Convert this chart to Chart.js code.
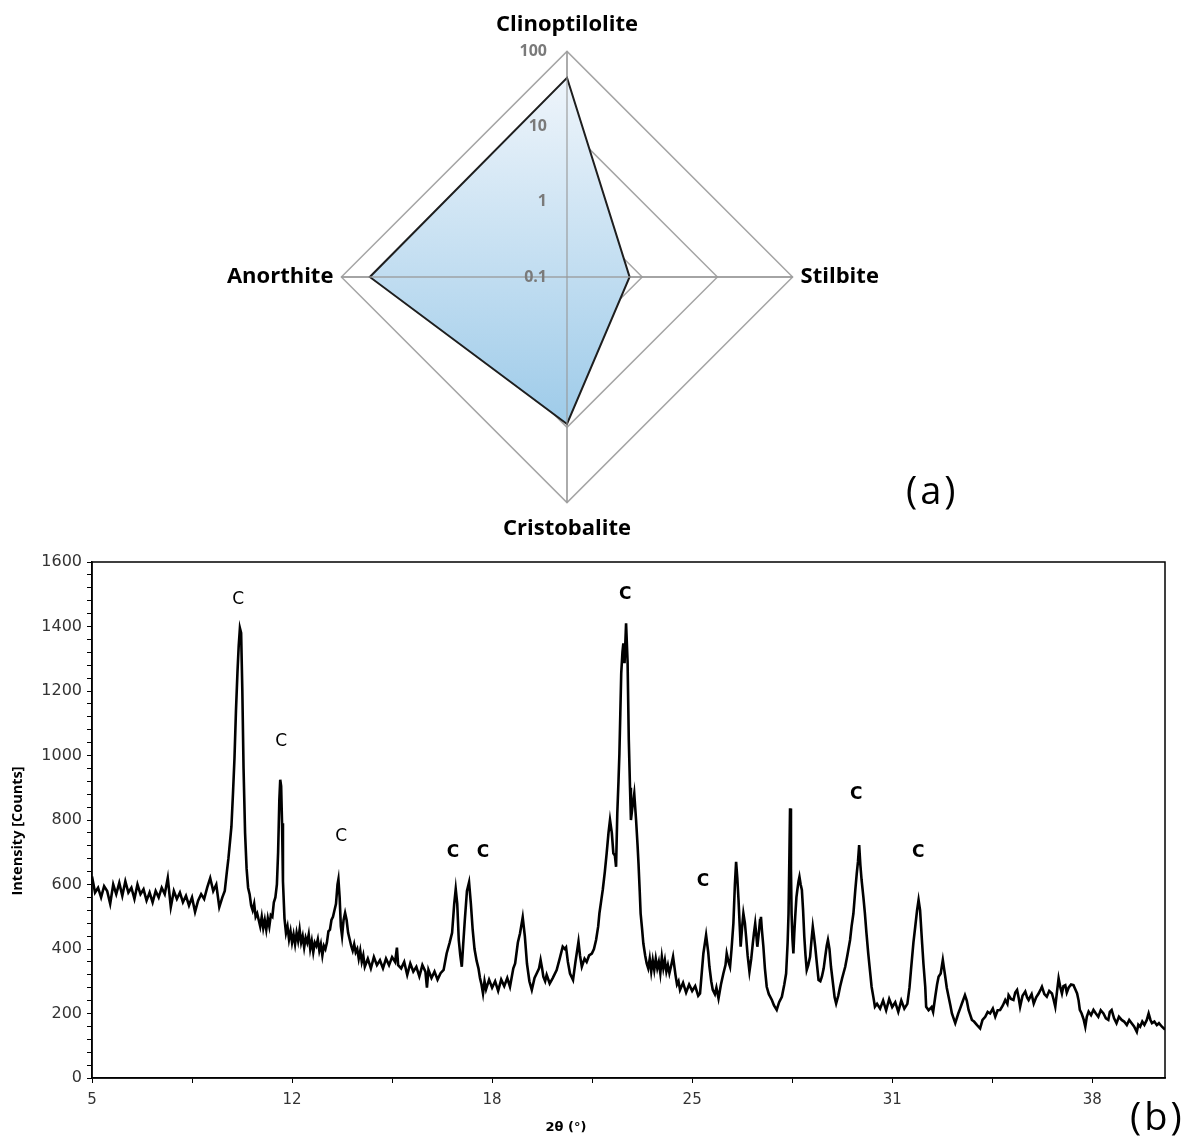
<!DOCTYPE html>
<html>
<head>
<meta charset="utf-8">
<script src="https://cdn.jsdelivr.net/npm/chart.js@4.4.1/dist/chart.umd.min.js"></script>
<style>
  body { margin: 0; background: #fff; }
  #page { position: relative; width: 1185px; height: 1142px; overflow: hidden; background: #fff; }
  #radarBox { position: absolute; left: 167px; top: 12px; width: 800px; height: 530px; }
  #xrdBox { position: absolute; left: 0; top: 545px; width: 1185px; height: 597px; }
  .panel-tag { position: absolute; font-family: 'Open Sans', sans-serif; font-size: 38px; line-height: 1; letter-spacing: 3px; color: #000; }
</style>
</head>
<body>
<div id="page">
  <div id="radarBox"><canvas id="radarChart"></canvas></div>
  <div id="xrdBox"><canvas id="xrdChart"></canvas></div>
  <div class="panel-tag" style="left:906px; top:470px;">(a)</div>
  <div class="panel-tag" style="left:1130px; top:1096px;">(b)</div>
</div>
<script>
// (a) mineral phases, shown on a log radial scale
const minerals = ['Clinoptilolite', 'Stilbite', 'Cristobalite', 'Anorthite'];
const mineralShares = [44.6, 0.68, 9.0, 41.9];
const radarTickValues = [-1, 0, 1, 2];          // log10 of the ring values
const radarTickLabels = ['0.1', '1', '10', '100'];

// (b) XRD scan
const twoTheta = [
  5.0, 5.1, 5.2, 5.3, 5.4, 5.5, 5.6, 5.7, 5.8, 5.9,
  6.0, 6.1, 6.2, 6.3, 6.4, 6.5, 6.6, 6.7, 6.8, 6.9,
  7.0, 7.1, 7.2, 7.3, 7.4, 7.5, 7.6, 7.7, 7.8, 7.9,
  8.0, 8.1, 8.2, 8.3, 8.4, 8.5, 8.6, 8.7, 8.8, 8.9,
  9.0, 9.1, 9.2, 9.3,
  9.38, 9.45, 9.5, 9.55, 9.6, 9.65, 9.7, 9.75, 9.8, 9.84,
  9.88, 9.92, 9.96, 10.0, 10.05, 10.1, 10.15, 10.2, 10.25, 10.3,
  10.35, 10.4, 10.45, 10.5,
  10.55, 10.6, 10.65, 10.7, 10.75, 10.8, 10.85, 10.9, 10.95, 11.0,
  11.05, 11.1, 11.14, 11.18, 11.21, 11.24, 11.27, 11.3, 11.35, 11.4,
  11.45, 11.5, 11.55, 11.6,
  11.65, 11.7, 11.75, 11.8, 11.85, 11.9, 11.95, 12.0, 12.05, 12.1,
  12.15, 12.2, 12.25, 12.3, 12.35, 12.4, 12.45, 12.5, 12.55, 12.6,
  12.65, 12.7, 12.75, 12.8, 12.85, 12.9, 12.95, 13.0,
  13.05, 13.1, 13.13, 13.17, 13.21, 13.25, 13.3, 13.35, 13.4, 13.45,
  13.5, 13.55, 13.6, 13.65, 13.7, 13.75, 13.8, 13.85, 13.9, 13.95,
  14.0, 14.1, 14.2, 14.3, 14.4, 14.5, 14.6, 14.7, 14.8, 14.9,
  15.0, 15.06, 15.1, 15.2, 15.3, 15.4, 15.5, 15.6, 15.7, 15.8,
  15.9, 16.0, 16.05, 16.1, 16.2, 16.3, 16.4, 16.5, 16.6,
  16.7, 16.8, 16.88, 16.95, 17.0, 17.05, 17.1, 17.15, 17.2, 17.25,
  17.3, 17.37, 17.44, 17.5, 17.56, 17.62, 17.69, 17.75, 17.8, 17.85,
  17.9, 17.95, 18.0, 18.1, 18.2, 18.3, 18.4, 18.5, 18.6, 18.7,
  18.79, 18.9, 18.96,
  19.05, 19.12, 19.21, 19.28, 19.35, 19.43, 19.51, 19.6, 19.67, 19.75,
  19.8, 19.85, 19.89, 19.95, 20.0, 20.1, 20.2, 20.33, 20.43, 20.53,
  20.6, 20.64, 20.7, 20.77, 20.87, 20.95, 21.05, 21.1, 21.16, 21.25,
  21.32, 21.4, 21.49, 21.56,
  21.63, 21.7, 21.74, 21.8, 21.85, 21.92, 21.98, 22.04, 22.09, 22.15,
  22.2, 22.25, 22.29, 22.33, 22.37, 22.4, 22.43, 22.46, 22.5, 22.53,
  22.57, 22.62, 22.67, 22.71, 22.75, 22.78, 22.83, 22.89, 22.95, 23.0,
  23.03, 23.07, 23.1, 23.15, 23.19, 23.25, 23.3,
  23.35, 23.4, 23.45, 23.5, 23.55, 23.6, 23.65, 23.7, 23.75, 23.8,
  23.85, 23.9, 23.95, 24.0, 24.05, 24.1, 24.17, 24.25, 24.3, 24.35,
  24.4, 24.5, 24.6, 24.7, 24.8, 24.9, 25.0,
  25.06, 25.12, 25.17, 25.26, 25.33, 25.37, 25.43, 25.48, 25.55, 25.6,
  25.67, 25.75, 25.83, 25.9, 25.94, 26.0, 26.05, 26.1, 26.16, 26.21,
  26.25, 26.29, 26.33, 26.37, 26.4, 26.45, 26.49, 26.54, 26.58, 26.63,
  26.69, 26.75, 26.8, 26.84, 26.88, 26.92, 26.95, 27.0, 27.04, 27.07,
  27.1, 27.15, 27.2, 27.26, 27.33, 27.43, 27.5, 27.59, 27.67, 27.76,
  27.84, 27.9,
  27.95, 27.98, 28.01, 28.03, 28.06, 28.08, 28.11, 28.14, 28.17, 28.2,
  28.24, 28.27, 28.31, 28.34, 28.38, 28.42, 28.46, 28.5, 28.54, 28.58,
  28.63, 28.69, 28.74, 28.78, 28.82, 28.86, 28.92, 28.97, 29.03, 29.08,
  29.14, 29.19, 29.24, 29.28, 29.33, 29.38, 29.45, 29.5, 29.55, 29.62,
  29.68, 29.75, 29.85, 29.92, 30.01, 30.06, 30.12, 30.18, 30.23, 30.27,
  30.31, 30.35, 30.39, 30.45, 30.5, 30.55, 30.61, 30.67, 30.72, 30.78,
  30.83, 30.9, 31.0, 31.1, 31.2, 31.3, 31.4, 31.5, 31.6, 31.7,
  31.8, 31.9,
  31.97, 32.02, 32.1, 32.16, 32.22, 32.27, 32.32, 32.38, 32.43, 32.49,
  32.52, 32.6, 32.7, 32.75, 32.82, 32.88, 32.93, 33.0, 33.07, 33.11,
  33.15, 33.2, 33.26, 33.32, 33.37, 33.48, 33.58, 33.64, 33.7, 33.8,
  33.86, 33.92, 34.03,
  34.1, 34.2, 34.3, 34.38, 34.47, 34.55, 34.63, 34.72, 34.8, 34.88,
  34.96, 35.05, 35.13, 35.2, 35.24, 35.32, 35.4, 35.46, 35.52, 35.57,
  35.62, 35.7, 35.79, 35.85, 35.9, 36.0, 36.07, 36.15, 36.23, 36.3,
  36.34, 36.42, 36.5, 36.58, 36.67, 36.72, 36.78, 36.84, 36.89, 36.95,
  37.0, 37.05, 37.11, 37.16, 37.22, 37.3, 37.38, 37.44, 37.5, 37.55,
  37.59, 37.65, 37.72, 37.77, 37.82, 37.88, 37.96, 38.04, 38.12, 38.2,
  38.28, 38.37, 38.45, 38.53, 38.58, 38.64, 38.72, 38.8, 38.88, 38.97,
  39.05, 39.14, 39.22, 39.3, 39.38, 39.47, 39.52, 39.58, 39.65, 39.72,
  39.8, 39.86, 39.92, 39.97, 40.05, 40.13, 40.2, 40.3, 40.4
];
const counts = [
  625, 575, 590, 560, 595, 580, 540, 600, 570, 605,
  565, 610, 575, 590, 555, 600, 570, 585, 550, 575,
  545, 580, 560, 590, 570, 620, 530, 580, 555, 575,
  545, 565, 535, 560, 515, 550, 570, 555, 590, 620,
  580, 600, 530, 560,
  580, 640, 680, 730, 780, 880, 990, 1140, 1260, 1340,
  1395, 1380, 1200, 960, 760, 650, 590, 570, 535, 520,
  540, 500, 510, 490,
  470, 500, 465, 490, 460, 495, 470, 505, 500, 545,
  560, 600, 700, 860, 925, 905, 790, 610, 495, 450,
  470, 430, 455, 420,
  445, 415, 450, 425, 460, 420, 440, 405, 435, 420,
  445, 400, 425, 390, 420, 410, 430, 395, 415, 380,
  410, 400, 420, 455, 460, 490, 500, 520,
  540, 600, 616, 560, 470, 440, 490, 512, 490, 450,
  430, 410, 395, 415, 390, 400, 370, 395, 360, 380,
  345, 370, 340, 375, 350, 365, 340, 370, 350, 375,
  360, 404, 350, 340, 360, 320, 355, 330, 345, 315,
  350, 330, 280, 335, 310, 330, 305, 325, 335,
  386, 420, 450, 540, 586, 540, 428, 380, 345, 420,
  490, 580, 607, 540, 459, 400, 363, 340, 310, 290,
  262, 300, 275, 305, 280, 300, 270, 305, 285, 310,
  283, 340, 355,
  420, 448, 498, 440, 355, 300, 273, 310, 324, 340,
  366, 340, 314, 300, 320, 293, 310, 335, 370, 407,
  400, 405, 360, 324, 304, 360, 423, 380, 345, 370,
  360, 380, 386, 400,
  428, 470, 510, 550, 583, 640, 697, 760, 800, 760,
  697, 690, 655, 820, 920, 1006, 1130, 1255, 1320, 1348,
  1286, 1410, 1290, 1048, 900, 800, 841, 882, 800, 720,
  665, 580, 510, 460, 417, 380, 355,
  340, 370, 330, 365, 335, 370, 340, 360, 325, 375,
  340, 365, 330, 350, 325, 345, 376, 320, 290, 300,
  273, 295, 265, 290, 270, 285, 255,
  262, 330, 386, 443, 390, 345, 300, 273, 260, 280,
  247, 290, 324, 350, 386, 360, 345, 400, 479, 600,
  670, 620, 552, 470, 407, 470, 510, 480, 438, 380,
  330, 370, 417, 450, 479, 440, 407, 450, 490, 500,
  460, 407, 340, 283, 260, 242, 225, 211, 235, 252,
  290, 324,
  420, 510, 700, 836, 650, 510, 430, 386, 450, 500,
  560, 583, 610, 624, 600, 583, 520, 438, 380, 335,
  350, 376, 430, 469, 440, 407, 350, 304, 300, 314,
  340, 376, 410, 428, 400, 345, 290, 250, 231, 255,
  283, 310, 345, 380, 428, 470, 510, 580, 634, 670,
  722, 660, 614, 560, 510, 450, 386, 330, 283, 250,
  221, 230, 215, 240, 210, 245, 220, 235, 205, 240,
  215, 230,
  280, 335, 420, 469, 520, 552, 520, 428, 355, 283,
  221, 210, 220, 205, 252, 290, 314, 324, 366, 340,
  314, 280, 252, 225, 200, 170, 200, 215, 231, 257,
  240, 211, 180,
  175, 164, 154, 180, 190, 205, 200, 215, 190, 210,
  211, 225, 242, 230, 257, 245, 242, 265, 273, 250,
  221, 255, 268, 250, 242, 260, 231, 250, 262, 275,
  283, 260, 252, 270, 262, 245, 221, 270, 309, 280,
  262, 285, 288, 265, 280, 290, 288, 275, 262, 240,
  211, 200, 180, 159, 190, 206, 195, 211, 200, 190,
  210, 200, 185, 180, 205, 211, 185, 170, 190, 180,
  175, 164, 180, 170, 160, 143, 165, 159, 175, 165,
  180, 200, 180, 170, 175, 164, 170, 159, 150
];

// "C" (clinoptilolite) peak tags, in data units
const tagTheta = [9.82, 11.24, 13.22, 16.91, 17.9, 22.59, 25.16, 30.21, 32.26];
const tagCounts = [1482, 1042, 750, 700, 700, 1500, 608, 880, 698];
const tagBold = [false, false, false, true, true, true, true, true, true];

const xTickValues = [5, 8.3, 11.6, 14.9, 18.2, 21.5, 24.8, 28.1, 31.4, 34.7, 38];
const xTickLabels = ['5', '', '12', '', '18', '', '25', '', '31', '', '38'];
const yTickLabels = ['0', '200', '400', '600', '800', '1000', '1200', '1400', '1600'];
const yMinorStep = 40;
const xTitle = '2θ (°)';
const yTitle = 'Intensity [Counts]';

Chart.defaults.font.family = "'Open Sans', sans-serif";

// draws the radial tick labels left of the vertical axis, and the axis spokes over the fill
const radarOverlay = {
    id: 'radarOverlay',
    afterDatasetsDraw(chart) {
        const r = chart.scales.r;
        const ctx = chart.ctx;
        ctx.save();
        ctx.strokeStyle = 'rgba(150, 150, 150, 0.85)';
        ctx.lineWidth = 1.3;
        for (let i = 0; i < minerals.length; i++) {
            const p = r.getPointPositionForValue(i, r.max);
            ctx.beginPath();
            ctx.moveTo(r.xCenter, r.yCenter);
            ctx.lineTo(p.x, p.y);
            ctx.stroke();
        }
        ctx.fillStyle = '#7a7a7a';
        ctx.font = "bold 16px 'Open Sans'";
        ctx.textAlign = 'right';
        ctx.textBaseline = 'middle';
        radarTickValues.forEach((v, i) => {
            const y = r.yCenter - r.getDistanceFromCenterForValue(v);
            ctx.fillText(radarTickLabels[i], r.xCenter - 20, y);
        });
        ctx.restore();
    }
};

function radarFill(context) {
    const chart = context.chart;
    const r = chart.scales.r;
    if (!chart.chartArea || !r) {
        return '#c5def0';
    }
    const top = r.yCenter - r.drawingArea * 0.89;
    const bottom = r.yCenter + r.drawingArea * 0.65;
    const g = chart.ctx.createLinearGradient(0, top, 0, bottom);
    g.addColorStop(0, '#eff5fb');
    g.addColorStop(1, '#9ecbe9');
    return g;
}

new Chart(document.getElementById('radarChart'), {
    type: 'radar',
    data: {
        labels: minerals,
        datasets: [{
            data: mineralShares.map(v => Math.log10(v)),
            borderColor: '#1e1e1e',
            borderWidth: 2,
            backgroundColor: radarFill,
            fill: 'start',
            pointRadius: 0,
            tension: 0
        }]
    },
    options: {
        responsive: true,
        maintainAspectRatio: false,
        animation: false,
        plugins: {
            legend: { display: false },
            tooltip: { enabled: false }
        },
        scales: {
            r: {
                min: -1,
                max: 2,
                ticks: { display: false, stepSize: 1 },
                grid: { color: '#a6a6a6', lineWidth: 1.5 },
                angleLines: { color: '#a6a6a6', lineWidth: 1.3 },
                pointLabels: {
                    color: '#000',
                    font: { size: 22, weight: 'bold' },
                    padding: c => (c.index % 2 === 0 ? 13 : 8)
                }
            }
        }
    },
    plugins: [radarOverlay]
});

// box round the plot area, plus the two axis titles (the x title sits left of centre in the original)
const plotFrame = {
    id: 'plotFrame',
    afterDatasetsDraw(chart) {
        const a = chart.chartArea;
        const ctx = chart.ctx;
        ctx.save();
        ctx.strokeStyle = '#000';
        ctx.lineWidth = 1.5;
        ctx.strokeRect(a.left, a.top, a.right - a.left, a.bottom - a.top);

        ctx.fillStyle = '#000';
        ctx.textAlign = 'center';
        ctx.textBaseline = 'middle';
        ctx.font = "bold 13px 'DejaVu Sans'";
        ctx.fillText(xTitle, 566, chart.height - 14);

        ctx.font = "bold 14.5px 'Open Sans'";
        ctx.translate(18, 286);
        ctx.rotate(-Math.PI / 2);
        ctx.fillText(yTitle, 0, 0);
        ctx.restore();
    }
};

const peakTags = {
    id: 'peakTags',
    afterDatasetsDraw(chart) {
        const { x, y } = chart.scales;
        const ctx = chart.ctx;
        ctx.save();
        ctx.fillStyle = '#000';
        ctx.textAlign = 'center';
        ctx.textBaseline = 'middle';
        tagTheta.forEach((t, i) => {
            ctx.font = (tagBold[i] ? 'bold ' : '') + "17px 'DejaVu Sans'";
            ctx.fillText('C', x.getPixelForValue(t), y.getPixelForValue(tagCounts[i]));
        });
        ctx.restore();
    }
};

const n = Math.min(twoTheta.length, counts.length);
const scanPoints = [];
for (let i = 0; i < n; i++) {
    scanPoints.push({ x: twoTheta[i], y: counts[i] });
}

new Chart(document.getElementById('xrdChart'), {
    type: 'line',
    data: {
        datasets: [{
            data: scanPoints,
            borderColor: '#000',
            borderWidth: 2.6,
            pointRadius: 0,
            tension: 0,
            fill: false
        }]
    },
    options: {
        responsive: true,
        maintainAspectRatio: false,
        animation: false,
        layout: { padding: { top: 17, right: 20, left: 0, bottom: 0 } },
        plugins: {
            legend: { display: false },
            tooltip: { enabled: false }
        },
        scales: {
            x: {
                type: 'linear',
                min: 5,
                max: 40.4,
                afterBuildTicks: scale => {
                    scale.ticks = xTickValues.map(v => ({ value: v }));
                },
                afterFit: scale => { scale.height = 64; },
                ticks: {
                    autoSkip: false,
                    maxRotation: 0,
                    padding: 8,
                    color: '#333',
                    font: { family: "'DejaVu Sans'", size: 15 },
                    callback: (value, index) => xTickLabels[index]
                },
                grid: { drawOnChartArea: false, drawTicks: true, tickLength: 5, color: '#000' },
                border: { color: '#000', width: 1.5 }
            },
            y: {
                min: 0,
                max: 1600,
                afterBuildTicks: scale => {
                    const t = [];
                    for (let v = 0; v <= 1600; v += yMinorStep) t.push({ value: v });
                    scale.ticks = t;
                },
                afterFit: scale => { scale.width = 92; },
                ticks: {
                    autoSkip: false,
                    padding: 5,
                    color: '#333',
                    font: { family: "'DejaVu Sans'", size: 16 },
                    callback: value => (value % 200 === 0 ? yTickLabels[value / 200] : '')
                },
                grid: { drawOnChartArea: false, drawTicks: true, tickLength: 5, color: '#000' },
                border: { color: '#000', width: 1.5 }
            }
        }
    },
    plugins: [plotFrame, peakTags]
});
</script>
</body>
</html>
